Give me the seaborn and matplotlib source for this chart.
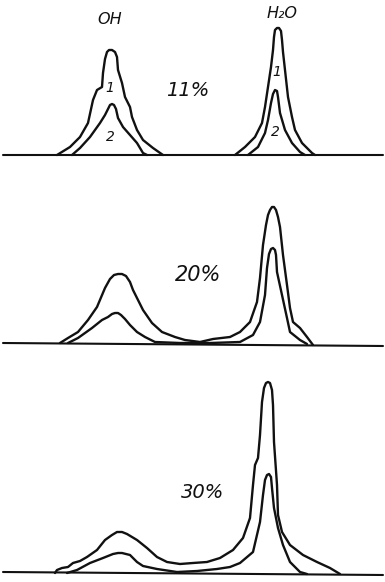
import matplotlib
matplotlib.use("Agg")
import matplotlib.pyplot as plt
import seaborn as sns

sns.set_theme(style="white")
plt.rcParams['font.family'] = ['DejaVu Sans']

# ---- data: position (arbitrary units) and absorption intensity ----
# Panel 1 (11%)
p1_oh1_x = [57, 70, 80, 88, 93, 97, 102, 103, 105, 107, 109, 112, 115, 117, 118, 122, 125, 130, 132, 137, 143, 153, 163]
p1_oh1_y = [0, 8, 18, 32, 55, 65, 68, 82, 96, 103, 105, 105, 103, 98, 85, 72, 58, 48, 38, 25, 15, 7, 0]
p1_oh2_x = [72, 80, 90, 100, 105, 108, 110, 112, 114, 116, 118, 123, 130, 137, 143, 147]
p1_oh2_y = [0, 7, 18, 32, 40, 46, 50, 51, 50, 46, 37, 28, 20, 12, 2, 0]
p1_w1_x = [235, 245, 255, 262, 265, 268, 271, 273, 274, 275, 277, 279, 281, 282, 283, 285, 288, 292, 295, 302, 312, 315]
p1_w1_y = [0, 8, 18, 32, 48, 68, 88, 105, 118, 125, 127, 127, 124, 115, 103, 85, 58, 38, 25, 12, 2, 0]
p1_w2_x = [248, 258, 265, 268, 271, 273, 275, 277, 278, 280, 285, 292, 300, 305]
p1_w2_y = [0, 8, 22, 35, 52, 61, 65, 64, 58, 42, 25, 12, 3, 0]

# Panel 2 (20%)
p2_c1_x = [60, 68, 78, 88, 97, 105, 110, 114, 118, 122, 126, 130, 133, 137, 143, 152, 162, 175, 185, 200,
           213, 230, 240, 250, 257, 260, 263, 266, 268, 270, 272, 274, 276, 278, 280, 283, 287, 290, 293,
           300, 307, 313]
p2_c1_y = [0, 5, 11, 23, 36, 55, 64, 68, 69, 69, 67, 61, 53, 45, 33, 20, 11, 6, 3, 1,
           4, 6, 11, 21, 41, 65, 98, 118, 128, 133, 136, 136, 133, 126, 116, 88, 58, 35, 21,
           15, 6, -2]
p2_c2_x = [68, 78, 92, 102, 108, 112, 115, 118, 121, 125, 130, 137, 145, 155, 180, 210, 240, 253, 260,
           265, 267, 269, 271, 273, 275, 276, 277, 282, 287, 290, 300, 307]
p2_c2_y = [0, 5, 15, 23, 26, 29, 30, 30, 28, 24, 18, 11, 6, 1, 0, 0, 1, 8, 21,
           48, 75, 89, 94, 95, 93, 88, 71, 48, 25, 11, 3, -1]

# Panel 3 (30%)
p3_c1_x = [55, 57, 62, 68, 73, 80, 87, 97, 105, 112, 117, 122, 127, 137, 147, 157, 167, 180, 193, 207,
           220, 233, 243, 250, 253, 255, 258, 260, 262, 264, 266, 268, 270, 272, 273, 274, 277, 278, 282,
           290, 303, 317, 330, 340]
p3_c1_y = [0, 3, 5, 6, 10, 12, 16, 23, 33, 38, 41, 41, 39, 33, 25, 16, 11, 9, 10, 11,
           15, 23, 35, 55, 88, 108, 115, 138, 171, 185, 190, 191, 190, 183, 168, 131, 88, 58, 41,
           28, 18, 11, 5, -1]
p3_c2_x = [67, 77, 90, 103, 113, 118, 122, 126, 130, 137, 143, 157, 177, 197, 217, 230, 240, 253, 260,
           263, 265, 267, 269, 271, 272, 274, 278, 283, 290, 300, 307]
p3_c2_y = [0, 3, 10, 15, 19, 20, 20, 19, 18, 11, 7, 4, 1, 2, 4, 6, 10, 21, 51,
           78, 93, 98, 99, 96, 85, 65, 45, 28, 11, 1, -1]

base_x = [3, 383]
base1_y = [0, 0]
base2_y = [0, -3]
base3_y = [1, -2]

band_labels = ["OH", "H₂O"]
conc_labels = ["11%", "20%", "30%"]
curve_labels = ["1", "2"]

W, H = 385, 582
fig = plt.figure(figsize=(W / 100, H / 100), dpi=100)
fig.patch.set_facecolor("white")

# axes extents in pixels (top, bottom) and baseline pixel row
panels = [(0, 170, 155), (170, 360, 343), (360, 582, 573)]
axes = []
for top, bot, base in panels:
    ax = fig.add_axes([0, 1 - bot / H, 1, (bot - top) / H])
    ax.set_xlim(0, W)
    ax.set_ylim(base - bot, base - top)
    ax.axis("off")
    axes.append(ax)

lw = 1.7
col = "#111111"

def draw(ax, x, y, w=lw):
    sns.lineplot(x=x, y=y, ax=ax, sort=False, estimator=None, color=col, lw=w,
                 solid_joinstyle="round", solid_capstyle="round")

ax1, ax2, ax3 = axes
draw(ax1, base_x, base1_y, 1.5)
draw(ax1, p1_oh1_x, p1_oh1_y)
draw(ax1, p1_oh2_x, p1_oh2_y)
draw(ax1, p1_w1_x, p1_w1_y)
draw(ax1, p1_w2_x, p1_w2_y)

draw(ax2, base_x, base2_y, 1.5)
draw(ax2, p2_c1_x, p2_c1_y)
draw(ax2, p2_c2_x, p2_c2_y)

draw(ax3, base_x, base3_y, 1.5)
draw(ax3, p3_c1_x, p3_c1_y)
draw(ax3, p3_c2_x, p3_c2_y)

tk = dict(ha="center", va="center", style="italic", color=col)
ax1.text(110, 135, band_labels[0], fontsize=11.5, **tk)
ax1.text(282, 142, band_labels[1], fontsize=11.5, **tk)
ax1.text(188, 65, conc_labels[0], fontsize=14, **tk)
ax1.text(110, 67, curve_labels[0], fontsize=10, **tk)
ax1.text(110, 18, curve_labels[1], fontsize=10, **tk)
ax1.text(277, 83, curve_labels[0], fontsize=10, **tk)
ax1.text(275, 23, curve_labels[1], fontsize=10, **tk)
ax2.text(198, 68, conc_labels[1], fontsize=15, **tk)
ax3.text(203, 81, conc_labels[2], fontsize=14, **tk)

fig.savefig("out.png", dpi=100, facecolor="white")
